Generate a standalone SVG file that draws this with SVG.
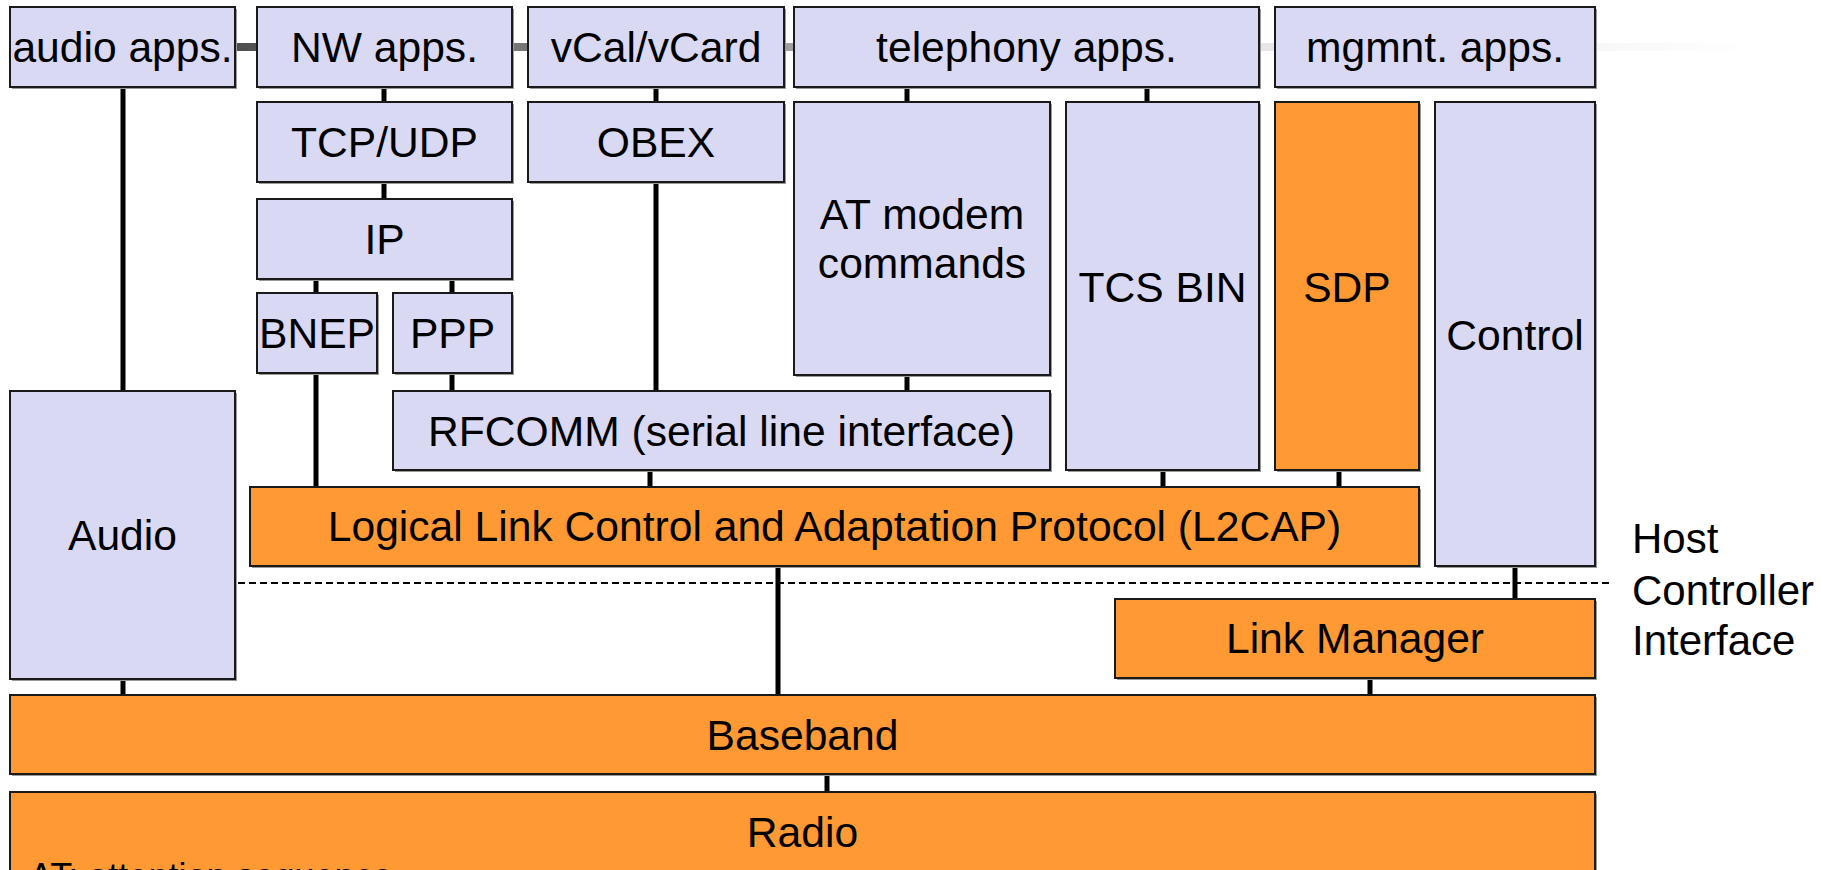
<svg xmlns="http://www.w3.org/2000/svg" width="1821" height="870" viewBox="0 0 1821 870">
<style>
.b{fill:#D9D9F3;stroke:#1a1a1a;stroke-width:2}
.o{fill:#FF9933;stroke:#1a1a1a;stroke-width:2}
.sh{fill:#9a9a9a}
.t{font-family:"Liberation Sans",Arial,sans-serif;font-size:42.6px;fill:#000;text-anchor:middle}
.c{stroke:#000;stroke-width:5;fill:none}
.hci{font-family:"Liberation Sans",Arial,sans-serif;font-size:42px;fill:#000}
</style>
<defs>
<linearGradient id="bar" x1="0" y1="0" x2="1750" y2="0" gradientUnits="userSpaceOnUse">
<stop offset="0" stop-color="#2e2e2e"/>
<stop offset="0.3" stop-color="#777"/>
<stop offset="0.45" stop-color="#a0a0a0"/>
<stop offset="0.72" stop-color="#e6e6e6"/>
<stop offset="1" stop-color="#fff"/>
</linearGradient>
</defs>
<rect width="1821" height="870" fill="#fff"/>
<rect id="title-bar" x="235" y="43" width="1515" height="8" fill="url(#bar)"/>

<g id="connectors">
<line class="c" x1="123" y1="87" x2="123" y2="391"/>
<line class="c" x1="384" y1="87" x2="384" y2="102"/>
<line class="c" x1="384" y1="182" x2="384" y2="199"/>
<line class="c" x1="316" y1="279" x2="316" y2="293"/>
<line class="c" x1="452" y1="277" x2="452" y2="293"/>
<line class="c" x1="316" y1="373" x2="316" y2="487"/>
<line class="c" x1="452" y1="373" x2="452" y2="391"/>
<line class="c" x1="656" y1="87" x2="656" y2="102"/>
<line class="c" x1="656" y1="182" x2="656" y2="391"/>
<line class="c" x1="907" y1="87" x2="907" y2="102"/>
<line class="c" x1="1147" y1="87" x2="1147" y2="102"/>
<line class="c" x1="907" y1="375" x2="907" y2="391"/>
<line class="c" x1="650" y1="470" x2="650" y2="487"/>
<line class="c" x1="1163" y1="470" x2="1163" y2="487"/>
<line class="c" x1="1339" y1="470" x2="1339" y2="487"/>
<line class="c" x1="1515" y1="566" x2="1515" y2="599"/>
<line class="c" x1="778" y1="566" x2="778" y2="695"/>
<line class="c" x1="123" y1="679" x2="123" y2="695"/>
<line class="c" x1="1370" y1="678" x2="1370" y2="695"/>
<line class="c" x1="827" y1="774" x2="827" y2="792"/>
<line id="hci-line" x1="238" y1="583" x2="1612" y2="583" stroke="#000" stroke-width="1.8" stroke-dasharray="7 4"/>
</g>

<g id="audio-apps"><rect class="sh" x="12" y="9" width="225" height="80"/><rect class="b" x="10" y="7" width="225" height="80"/><text class="t" x="122.5" y="62">audio apps.</text></g>
<g id="nw-apps"><rect class="sh" x="259" y="9" width="255" height="80"/><rect class="b" x="257" y="7" width="255" height="80"/><text class="t" x="384.5" y="62">NW apps.</text></g>
<g id="vcal"><rect class="sh" x="530" y="9" width="256" height="80"/><rect class="b" x="528" y="7" width="256" height="80"/><text class="t" x="656" y="62">vCal/vCard</text></g>
<g id="telephony-apps"><rect class="sh" x="796" y="9" width="465" height="80"/><rect class="b" x="794" y="7" width="465" height="80"/><text class="t" x="1026.5" y="62">telephony apps.</text></g>
<g id="mgmnt-apps"><rect class="sh" x="1277" y="9" width="320" height="80"/><rect class="b" x="1275" y="7" width="320" height="80"/><text class="t" x="1435" y="62">mgmnt. apps.</text></g>

<g id="tcp-udp"><rect class="sh" x="259" y="104" width="255" height="80"/><rect class="b" x="257" y="102" width="255" height="80"/><text class="t" x="384.5" y="157">TCP/UDP</text></g>
<g id="obex"><rect class="sh" x="530" y="104" width="256" height="80"/><rect class="b" x="528" y="102" width="256" height="80"/><text class="t" x="656" y="157">OBEX</text></g>
<g id="at-modem"><rect class="sh" x="796" y="104" width="256" height="273"/><rect class="b" x="794" y="102" width="256" height="273"/><text class="t" x="922" y="229">AT modem</text><text class="t" x="922" y="278">commands</text></g>
<g id="tcs-bin"><rect class="sh" x="1068" y="104" width="193" height="368"/><rect class="b" x="1066" y="102" width="193" height="368"/><text class="t" x="1162.5" y="302">TCS BIN</text></g>
<g id="sdp"><rect class="sh" x="1277" y="104" width="144" height="368"/><rect class="o" x="1275" y="102" width="144" height="368"/><text class="t" x="1347" y="302">SDP</text></g>
<g id="control"><rect class="sh" x="1437" y="104" width="160" height="464"/><rect class="b" x="1435" y="102" width="160" height="464"/><text class="t" x="1515" y="350">Control</text></g>

<g id="ip"><rect class="sh" x="259" y="201" width="255" height="80"/><rect class="b" x="257" y="199" width="255" height="80"/><text class="t" x="384.5" y="254">IP</text></g>
<g id="bnep"><rect class="sh" x="259" y="295" width="120" height="80"/><rect class="b" x="257" y="293" width="120" height="80"/><text class="t" x="317" y="348">BNEP</text></g>
<g id="ppp"><rect class="sh" x="395" y="295" width="119" height="80"/><rect class="b" x="393" y="293" width="119" height="80"/><text class="t" x="452.5" y="348">PPP</text></g>
<g id="rfcomm"><rect class="sh" x="395" y="393" width="657" height="79"/><rect class="b" x="393" y="391" width="657" height="79"/><text class="t" x="721.5" y="446">RFCOMM (serial line interface)</text></g>

<g id="audio"><rect class="sh" x="12" y="393" width="225" height="288"/><rect class="b" x="10" y="391" width="225" height="288"/><text class="t" x="122.5" y="550">Audio</text></g>
<g id="l2cap"><rect class="sh" x="252" y="489" width="1169" height="79"/><rect class="o" x="250" y="487" width="1169" height="79"/><text class="t" x="834.5" y="541">Logical Link Control and Adaptation Protocol (L2CAP)</text></g>
<g id="link-manager"><rect class="sh" x="1117" y="601" width="480" height="79"/><rect class="o" x="1115" y="599" width="480" height="79"/><text class="t" x="1355" y="653">Link Manager</text></g>
<g id="baseband"><rect class="sh" x="12" y="697" width="1585" height="79"/><rect class="o" x="10" y="695" width="1585" height="79"/><text class="t" x="802.5" y="750">Baseband</text></g>
<g id="radio"><rect class="sh" x="12" y="794" width="1585" height="100"/><rect class="o" x="10" y="792" width="1585" height="100"/><text class="t" x="802.5" y="847">Radio</text><text x="29" y="889" font-family="Liberation Sans, Arial, sans-serif" font-size="36" fill="#000">AT: attention sequence</text></g>

<g id="hci-label"><text class="hci" x="1632" y="553">Host</text><text class="hci" x="1632" y="605">Controller</text><text class="hci" x="1632" y="655">Interface</text></g>
</svg>
